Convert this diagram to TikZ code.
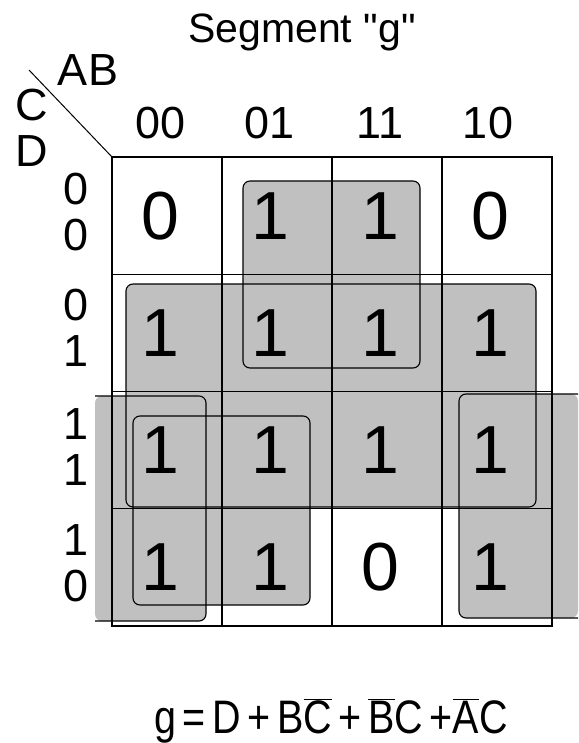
\documentclass[tikz,border=0pt]{standalone}
\usepackage{graphicx}
\usepackage{fontspec}
\setmainfont{Liberation Sans}[Ligatures=TeXOff]
\usetikzlibrary{positioning}
\definecolor{kmapgray}{HTML}{C0C0C0}

\begin{document}
\begin{tikzpicture}[
    x=1pt, y=-1pt,
    cell/.style={rectangle, draw, line width=1.2pt, minimum width=110pt, minimum height=117.25pt, inner sep=0pt, outer sep=0pt, font=\fontsize{68}{68}\selectfont, execute at begin node={\hspace*{-13pt}}},
    lbl/.style={inner sep=0pt, align=center, font=\fontsize{45}{46}\selectfont},
    grpfill/.style={fill=kmapgray, rounded corners=7pt},
    grpline/.style={draw, line width=1.1pt, rounded corners=7pt}
  ]
  \useasboundingbox (0,0) rectangle (578,743);

  % shaded groups
  \fill[grpfill] (243,181) rectangle (420,368);
  \fill[grpfill] (126,284) rectangle (536,507);
  \fill[grpfill] (95,396) -- (206,396) -- (206,621) -- (95,621) -- cycle;
  \fill[grpfill] (578,394) -- (459,394) -- (459,618) -- (578,618) -- cycle;
  \fill[grpfill] (133,416) rectangle (310,605);

  % map cells
  \node[cell] (a00) at (167,215.625) {0};
  \node[cell, right=0pt of a00] (a01) {1};
  \node[cell, right=0pt of a01] (a11) {1};
  \node[cell, right=0pt of a11] (a10) {0};
  \node[cell, below=0pt of a00] (b00) {1};
  \node[cell, right=0pt of b00] (b01) {1};
  \node[cell, right=0pt of b01] (b11) {1};
  \node[cell, right=0pt of b11] (b10) {1};
  \node[cell, below=0pt of b00] (c00) {1};
  \node[cell, right=0pt of c00] (c01) {1};
  \node[cell, right=0pt of c01] (c11) {1};
  \node[cell, right=0pt of c11] (c10) {1};
  \node[cell, below=0pt of c00] (d00) {1};
  \node[cell, right=0pt of d00] (d01) {1};
  \node[cell, right=0pt of d01] (d11) {0};
  \node[cell, right=0pt of d11] (d10) {1};

  % group outlines
  \draw[grpline] (243,181) rectangle (420,368);
  \draw[grpline] (126,284) rectangle (536,507);
  \draw[grpline] (95,396) -- (206,396) -- (206,621) -- (95,621);
  \draw[grpline] (578,394) -- (459,394) -- (459,618) -- (578,618);
  \draw[grpline] (133,416) rectangle (310,605);

  % labels
  \node[lbl, anchor=base, font=\fontsize{41}{41}\selectfont] (title) at (302,43) {Segment "g"};
  \node[lbl] (ab) at (88,70) {AB};
  \node[lbl] (cd) at (32,128) {C\\D};
  \coordinate (diag) at (29,70);
  \draw[line width=1pt] (diag) -- (a00.north west);

  \node[lbl, anchor=base] (h00) at (161,139) {00};
  \node[lbl, anchor=base] (h01) at (270,139) {01};
  \node[lbl, anchor=base] (h11) at (380,139) {11};
  \node[lbl, anchor=base] (h10) at (488,139) {10};

  \node[lbl] (v00) at (76,212.5) {0\\0};
  \node[lbl] (v01) at (76,328) {0\\1};
  \node[lbl] (v11) at (76,447.5) {1\\1};
  \node[lbl] (v10) at (76,563) {1\\0};

  \node[lbl, anchor=base, font=\fontsize{47}{47}\selectfont] (eq) at (331,733)
    {\scalebox{0.84}[1]{g\,=\,D\,+\,B$\overline{\mbox{C}}$\,+\,$\overline{\mbox{B}}$C\,+$\overline{\mbox{A}}$C}};
\end{tikzpicture}
\end{document}
